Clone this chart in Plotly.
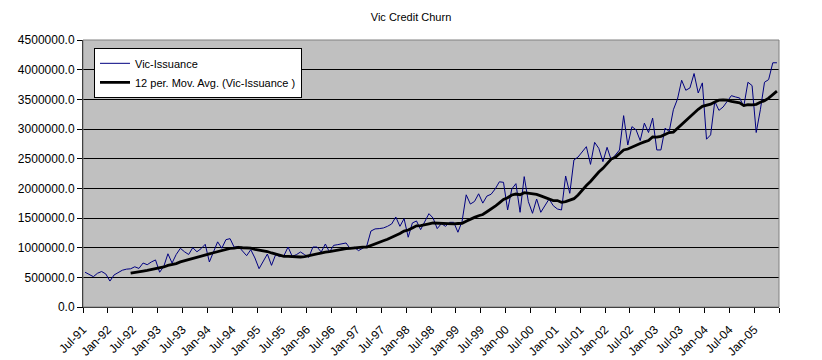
import plotly.graph_objects as go
import pandas as pd

# Monthly categories: Jul-91 .. Jun-05
months = pd.date_range("1991-07-01", periods=168, freq="MS")

tick_labels = ["Jul-91", "Jan-92", "Jul-92", "Jan-93", "Jul-93", "Jan-94", "Jul-94",
               "Jan-95", "Jul-95", "Jan-96", "Jul-96", "Jan-97", "Jul-97", "Jan-98",
               "Jul-98", "Jan-99", "Jul-99", "Jan-00", "Jul-00", "Jan-01", "Jul-01",
               "Jan-02", "Jul-02", "Jan-03", "Jul-03", "Jan-04", "Jul-04", "Jan-05", ""]

vic_issuance = [
    # Jul-91 .. Jun-92
    586000, 552000, 511000, 569000, 598000, 557000, 437000, 540000, 586000, 620000, 638000, 644000,
    # Jul-92 .. Jun-93
    678000, 650000, 741000, 713000, 759000, 793000, 586000, 684000, 897000, 741000, 885000, 989000,
    # Jul-93 .. Jun-94
    931000, 885000, 1000000, 931000, 983000, 1057000, 759000, 914000, 1098000, 990000, 1135000, 1152000,
    # Jul-94 .. Jun-95
    1006000, 1022000, 938000, 865000, 966000, 826000, 646000, 781000, 893000, 702000, 882000, 848000,
    # Jul-95 .. Jun-96
    865000, 1011000, 854000, 882000, 927000, 882000, 837000, 1011000, 1011000, 927000, 1062000, 927000,
    # Jul-96 .. Jun-97
    1039000, 1051000, 1067000, 1079000, 983000, 1006000, 950000, 990000, 1030000, 1280000, 1316000, 1321000,
    # Jul-97 .. Jun-98
    1332000, 1360000, 1399000, 1517000, 1360000, 1489000, 1176000, 1416000, 1450000, 1304000, 1444000, 1573000,
    # Jul-98 .. Jun-99
    1500000, 1321000, 1405000, 1360000, 1427000, 1427000, 1260000, 1444000, 1891000, 1735000, 1779000, 1908000,
    # Jul-99 .. Jun-00
    1751000, 1870000, 1900000, 1990000, 2110000, 2101000, 1635000, 1989000, 2079000, 1596000, 2197000, 1775000,
    # Jul-00 .. Jun-01
    1579000, 1820000, 1596000, 1719000, 1820000, 1708000, 1652000, 1635000, 2208000, 1916000, 2478000, 2528000,
    # Jul-01 .. Jun-02
    2618000, 2702000, 2404000, 2775000, 2674000, 2449000, 2691000, 2478000, 2562000, 2646000, 3225000, 2730000,
    # Jul-02 .. Jun-03
    3040000, 2986000, 2805000, 3099000, 2941000, 3184000, 2647000, 2647000, 3014000, 2958000, 3325000, 3506000,
    # Jul-03 .. Jun-04
    3822000, 3653000, 3692000, 3935000, 3607000, 3777000, 2828000, 2901000, 3466000, 3314000, 3370000, 3466000,
    # Jul-04 .. Jun-05
    3562000, 3540000, 3523000, 3381000, 3788000, 3732000, 2941000, 3325000, 3788000, 3833000, 4116000, 4116000,
]

y_ticks = [0, 500000, 1000000, 1500000, 2000000, 2500000, 3000000, 3500000, 4000000, 4500000]

idx = list(range(len(vic_issuance)))
moving_avg = pd.Series(vic_issuance).rolling(12).mean()
hover_labels = [m.strftime("%b-%y") for m in months]

FONT = "Liberation Sans, Arial, sans-serif"

fig = go.Figure()
fig.add_trace(go.Scatter(
    x=idx, y=vic_issuance, mode="lines", name="Vic-Issuance",
    line=dict(color="#000080", width=1), text=hover_labels,
))
fig.add_trace(go.Scatter(
    x=idx, y=moving_avg, mode="lines", name="12 per. Mov. Avg. (Vic-Issuance )",
    line=dict(color="#000000", width=2.8), text=hover_labels,
))

tickvals = [-0.5 + 6 * k for k in range(len(tick_labels))]

fig.update_layout(
    width=822, height=360,
    margin=dict(l=83, r=43, t=40, b=53),
    paper_bgcolor="white",
    plot_bgcolor="#C0C0C0",
    font=dict(family=FONT, size=11, color="black"),
    title=dict(text="Vic Credit Churn", x=0.5, xanchor="center", y=1 - 17 / 360,
               yanchor="middle", font=dict(family=FONT, size=11, color="black")),
    showlegend=True,
    legend=dict(x=0.0158, y=0.9707, xanchor="left", yanchor="top",
                bgcolor="white", bordercolor="black", borderwidth=1,
                font=dict(family=FONT, size=11, color="black"),
                itemwidth=30, tracegroupgap=0),
    xaxis=dict(
        range=[-0.5, len(vic_issuance) - 0.5],
        tickmode="array", tickvals=tickvals, ticktext=tick_labels,
        tickangle=-45, ticks="outside", ticklen=5, tickcolor="black",
        ticklabelstandoff=5, automargin=False,
        showline=True, linecolor="black", linewidth=1,
        showgrid=False, zeroline=False,
        tickfont=dict(family=FONT, size=12, color="black"),
    ),
    yaxis=dict(
        range=[0, 4500000], automargin=False,
        tickmode="array", tickvals=y_ticks, tickformat=".1f",
        ticks="outside", ticklen=5, tickcolor="black",
        showline=True, linecolor="black", linewidth=1,
        showgrid=True, gridcolor="black", gridwidth=1,
        zeroline=False,
        tickfont=dict(family=FONT, size=12, color="black"),
    ),
    shapes=[dict(type="rect", xref="paper", yref="paper", x0=0, x1=1, y0=0, y1=1,
                 line=dict(color="#808080", width=1), layer="above")],
)

fig.write_html("out.html", config={"displayModeBar": False},
               post_script="document.body.style.margin='0';")
